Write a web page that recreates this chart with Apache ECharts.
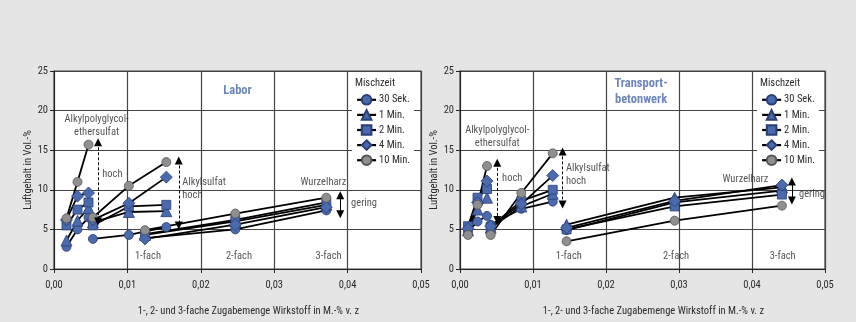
<!DOCTYPE html>
<html>
<head>
<meta charset="utf-8">
<script src="https://cdn.jsdelivr.net/npm/echarts@6/dist/echarts.min.js"></script>
<style>
html,body{margin:0;padding:0;background:#e5e5e5;}
#c{width:856px;height:322px;}
</style>
</head>
<body>
<div id="c"></div>
<script>
// ---------- DATA ----------
const mischzeit = ['30 Sek.', '1 Min.', '2 Min.', '4 Min.', '10 Min.'];
const xTicks = [0, 0.01, 0.02, 0.03, 0.04, 0.05];
const yTicks = [0, 5, 10, 15, 20, 25];

// Labor panel: x positions (dosage) per group
const laborApgX = [0.0017, 0.0032, 0.0047];
const laborAsX  = [0.0053, 0.0102, 0.0153];
const laborWhX  = [0.0124, 0.0247, 0.0371];
// values per Mischzeit (rows in mischzeit order)
const laborApg = [[2.8, 5.0, 6.5],[3.6, 6.1, 7.7],[5.5, 7.5, 8.4],[6.2, 9.2, 9.6],[6.4, 11.0, 15.7]];
const laborAs  = [[3.8, 4.3, 5.3],[5.9, 7.2, 7.3],[5.5, 7.9, 8.1],[6.2, 8.3, 11.6],[6.5, 10.5, 13.5]];
const laborWh  = [[3.9, 5.0, 7.4],[4.3, 6.0, 8.1],[4.4, 6.2, 8.4],[3.8, 5.6, 7.8],[4.9, 7.0, 9.0]];

// Transportbetonwerk panel
const werkApgX = [0.0011, 0.0024, 0.0037];
const werkAsX  = [0.0042, 0.0084, 0.0127];
const werkWhX  = [0.0146, 0.0294, 0.0441];
const werkApg = [[4.7, 6.0, 6.7],[4.9, 7.5, 9.0],[5.4, 9.0, 10.1],[5.1, 8.4, 11.1],[4.3, 8.1, 13.0]];
const werkAs  = [[5.6, 7.6, 8.5],[5.2, 7.9, 9.5],[5.3, 8.6, 10.0],[5.4, 8.2, 11.8],[4.3, 9.6, 14.6]];
const werkWh  = [[4.9, 8.4, 9.9],[5.6, 9.0, 10.3],[5.0, 7.9, 9.4],[5.2, 8.6, 10.6],[3.5, 6.1, 8.0]];

// annotation texts [x, y, text, align]
const laborNotes = [
  [0.0250, 22.5, 'Labor', 'title'],
  [0.0058, 18.05, 'Alkylpolyglycol-\nethersulfat', 'center'],
  [0.0065, 11.96, 'hoch', 'left'],
  [0.0174, 10.16, 'Alkylsulfat\nhoch', 'left'],
  [0.0367, 10.93, 'Wurzelharz', 'center'],
  [0.0404, 8.24, 'gering', 'left'],
  [0.0128, 1.6, '1-fach', 'center'],
  [0.0252, 1.6, '2-fach', 'center'],
  [0.0374, 1.6, '3-fach', 'center']
];
const werkNotes = [
  [0.0248, 22.33, 'Transport-\nbetonwerk', 'title'],
  [0.0051, 16.68, 'Alkylpolyglycol-\nethersulfat', 'center'],
  [0.0057, 11.46, 'hoch', 'left'],
  [0.01444, 11.93, 'Alkylsulfat\nhoch', 'left'],
  [0.0391, 11.34, 'Wurzelharz', 'center'],
  [0.04637, 9.39, 'gering', 'left'],
  [0.0149, 1.6, '1-fach', 'center'],
  [0.0296, 1.6, '2-fach', 'center'],
  [0.0442, 1.6, '3-fach', 'center']
];
// arrows [x, yTop, yBottom, dashed]
const laborArrows = [[0.0060, 16.0, 6.0, true],[0.0170, 13.7, 5.5, true],[0.0390, 9.3, 6.9, false]];
const werkArrows  = [[0.0051, 13.4, 6.2, true],[0.01405, 14.85, 8.15, true],[0.04546, 11.05, 8.65, false]];

// ---------- STYLE ----------
const FONT = "'Roboto Condensed','DejaVu Sans Condensed',sans-serif";
const FS = 10.5;
const TXT = '#2b2b2b';
const BLUE = '#4b69ad', BLUE_B = '#2a3f73';
const GRAY = '#8f8f8f', GRAY_B = '#555';
const sym = [
  {symbol:'circle', size:9, color:BLUE, border:BLUE_B},
  {symbol:'triangle', size:11, color:BLUE, border:BLUE_B},
  {symbol:'rect', size:9, color:BLUE, border:BLUE_B},
  {symbol:'diamond', size:12, color:BLUE, border:BLUE_B},
  {symbol:'circle', size:9, color:GRAY, border:GRAY_B}
];

const series = [];
function addPanel(p, groups, notes, arrows) {
  mischzeit.forEach((name, i) => {
    groups.forEach(g => {
      series.push({
        type:'line', name, xAxisIndex:p, yAxisIndex:p,
        data: g.x.map((x, k) => [x, g.v[i][k]]),
        symbol: sym[i].symbol, symbolSize: sym[i].size,
        itemStyle:{color:sym[i].color, borderColor:sym[i].border, borderWidth:0.8},
        lineStyle:{color:'#000', width:1.8},
        emphasis:{disabled:true}, animation:false, z: 3
      });
    });
  });
  series.push({
    type:'scatter', name:'notes'+p, xAxisIndex:p, yAxisIndex:p, silent:true, animation:false,
    symbolSize:1, itemStyle:{color:'rgba(0,0,0,0)'}, z:5,
    data: notes.map(n => ({
      value:[n[0], n[1]],
      label:{
        show:true, formatter:n[2],
        position: n[3] === 'left' ? 'right' : 'inside',
        distance: 0,
        align: n[3] === 'left' ? 'left' : 'center',
        fontFamily: FONT,
        fontSize: n[3] === 'title' ? 12.5 : FS,
        fontWeight: n[3] === 'title' ? 'bold' : 'normal',
        color: n[3] === 'title' ? '#4a67ab' : TXT,
        lineHeight: n[3] === 'title' ? 16 : 13
      }
    })),
    markLine:{
      silent:true, animation:false, symbol:['triangle','triangle'], symbolSize:8,
      label:{show:false},
      data: arrows.map(a => [
        {coord:[a[0], a[1]], lineStyle:{type: a[3] ? [3,2] : 'solid', color:'#000', width:1}, itemStyle:{color:'#000'}},
        {coord:[a[0], a[2]]}
      ])
    }
  });
}
addPanel(0, [{x:laborApgX, v:laborApg},{x:laborAsX, v:laborAs},{x:laborWhX, v:laborWh}], laborNotes, laborArrows);
addPanel(1, [{x:werkApgX, v:werkApg},{x:werkAsX, v:werkAs},{x:werkWhX, v:werkWh}], werkNotes, werkArrows);

function xAxis(i) {
  return {
    type:'value', gridIndex:i, min:xTicks[0], max:xTicks[xTicks.length-1], interval:0.01,
    name:'1-, 2- und 3-fache Zugabemenge Wirkstoff in M.-% v. z', nameLocation:'middle', nameGap:37,
    nameTextStyle:{fontFamily:FONT, fontSize:FS, color:TXT, padding:[0,0,0,22]},
    axisLine:{show:true, onZero:false, lineStyle:{color:'#222', width:1}},
    axisTick:{show:true, length:4, lineStyle:{color:'#222'}},
    axisLabel:{fontFamily:FONT, fontSize:FS, color:TXT, margin:11,
      formatter: v => v.toFixed(2).replace('.', ',')},
    splitLine:{show:true, lineStyle:{color:'#444', width:1.2}}
  };
}
function yAxis(i) {
  return {
    type:'value', gridIndex:i, min:yTicks[0], max:yTicks[yTicks.length-1], interval:5,
    name:'Luftgehalt in Vol.-%', nameLocation:'middle', nameGap:15, nameRotate:90,
    nameTextStyle:{fontFamily:FONT, fontSize:FS, color:TXT},
    axisLine:{show:true, onZero:false, lineStyle:{color:'#222', width:1}},
    axisTick:{show:true, length:4, lineStyle:{color:'#222'}},
    axisLabel:{fontFamily:FONT, fontSize:FS, color:TXT, margin:6},
    splitLine:{show:true, lineStyle:{color:'#444', width:1.2}}
  };
}
function legend(left) {
  return {
    data: mischzeit, orient:'vertical', left:left, top:94, itemGap:3.5,
    itemWidth:19, itemHeight:12, backgroundColor:'#fff', padding:[0,4,6,4],
    selectedMode:false,
    lineStyle:{width:2.2},
    textStyle:{fontFamily:FONT, fontSize:FS, color:TXT, padding:[0,0,0,-2]}
  };
}

const chart = echarts.init(document.getElementById('c'), null, {renderer:'canvas'});
chart.setOption({
  backgroundColor:'#e5e5e5',
  animation:false,
  grid:[
    {left:54, top:71, width:367, height:201, show:true, backgroundColor:'#fff', borderColor:'#444', borderWidth:1.2},
    {left:460, top:71, width:365, height:201, show:true, backgroundColor:'#fff', borderColor:'#444', borderWidth:1.2}
  ],
  title:[
    {text:'Mischzeit', left:355, top:78, padding:0, textStyle:{fontFamily:FONT, fontSize:FS, fontWeight:'normal', color:TXT}},
    {text:'Mischzeit', left:760, top:78, padding:0, textStyle:{fontFamily:FONT, fontSize:FS, fontWeight:'normal', color:TXT}}
  ],
  legend:[legend(352), legend(757)],
  xAxis:[xAxis(0), xAxis(1)],
  yAxis:[yAxis(0), yAxis(1)],
  series
});
</script>
</body>
</html>
